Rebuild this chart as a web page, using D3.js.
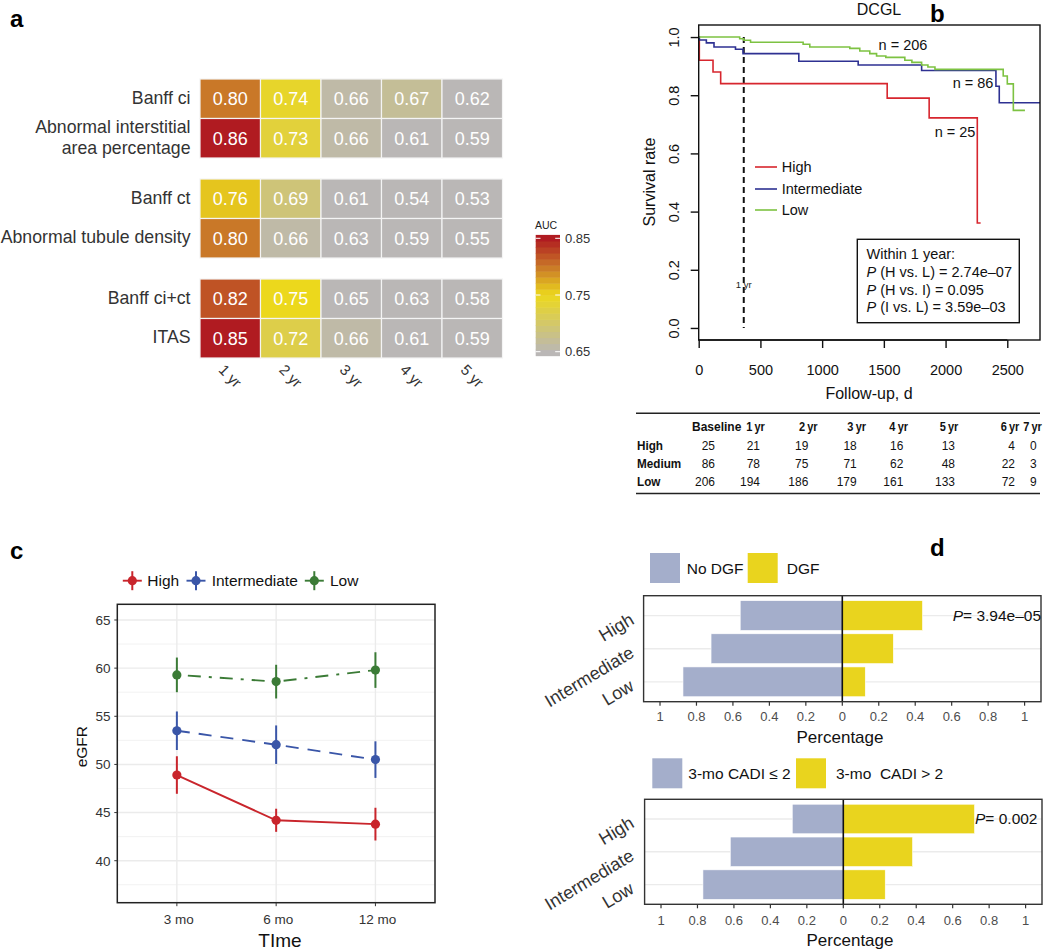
<!DOCTYPE html>
<html><head><meta charset="utf-8">
<script src="https://cdn.jsdelivr.net/npm/d3@7"></script>
<style>
body{margin:0;background:#fff}
svg{display:block}
text{font-family:"Liberation Sans",Arial,Helvetica,sans-serif}
</style>
</head><body>
<svg id="fig" width="1050" height="952"></svg>
<script>
// ---------------- DATA ----------------
// Panel a: AUC heatmap
const heatRows = ["Banff ci", "Abnormal interstitial\narea percentage", "Banff ct", "Abnormal tubule density", "Banff ci+ct", "ITAS"];
const heatYears = ["1 yr", "2 yr", "3 yr", "4 yr", "5 yr"];
const aucBanffCi = [0.80, 0.74, 0.66, 0.67, 0.62];
const aucInterstitial = [0.86, 0.73, 0.66, 0.61, 0.59];
const aucBanffCt = [0.76, 0.69, 0.61, 0.54, 0.53];
const aucTubule = [0.80, 0.66, 0.63, 0.59, 0.55];
const aucCiCt = [0.82, 0.75, 0.65, 0.63, 0.58];
const aucITAS = [0.85, 0.72, 0.66, 0.61, 0.59];
const aucLegendTicks = [0.65, 0.75, 0.85];

// Panel b: Kaplan-Meier steps [day, survival]
const kmHigh = [[0,1],[5,0.92],[116,0.88],[178,0.84],[1527,0.79],[1867,0.722],[2257,0.361],[2284,0.361]];
const kmIntermediate = [[0,1],[5,0.99],[62,0.98],[124,0.966],[298,0.958],[359,0.943],[811,0.917],[1292,0.904],[1806,0.885],[2408,0.831],[2435,0.774],[2765,0.774]];
const kmLow = [[0,1],[332,0.994],[365,0.989],[420,0.982],[846,0.975],[900,0.966],[1224,0.961],[1305,0.952],[1386,0.943],[1441,0.935],[1516,0.93],[1670,0.92],[1727,0.913],[1806,0.904],[1857,0.897],[1914,0.889],[2467,0.866],[2500,0.839],[2549,0.748],[2643,0.748]];
const survTicksX = [0, 500, 1000, 1500, 2000, 2500];
const survTicksY = [0, 0.2, 0.4, 0.6, 0.8, 1.0];
const survGroups = ["High", "Intermediate", "Low"];
const survN = ["n = 25", "n = 86", "n = 206"];
const pLines = ["Within 1 year:", "(H vs. L) = 2.74e\u201307", "(H vs. I) = 0.095", "(I vs. L) = 3.59e\u201303"];

// Panel b: risk table
const riskCols = ["Baseline", "1 yr", "2 yr", "3 yr", "4 yr", "5 yr", "6 yr", "7 yr"];
const riskRows = ["High", "Medium", "Low"];
const riskHigh = [25, 21, 19, 18, 16, 13, 4, 0];
const riskMedium = [86, 78, 75, 71, 62, 48, 22, 3];
const riskLow = [206, 194, 186, 179, 161, 133, 72, 9];

// Panel c: eGFR
const egfrTimes = ["3 mo", "6 mo", "12 mo"];
const egfrHigh = [48.9, 44.2, 43.8];
const egfrHighErr = [1.95, 1.2, 1.7];
const egfrInter = [53.5, 52.05, 50.5];
const egfrInterErr = [2.0, 2.0, 1.9];
const egfrLow = [59.3, 58.6, 59.8];
const egfrLowErr = [1.8, 1.75, 1.85];
const egfrTicks = [40, 45, 50, 55, 60, 65];

// Panel d: proportions
const dGroups = ["High", "Intermediate", "Low"];
const noDGF = [0.56, 0.72, 0.874];
const DGF = [0.44, 0.28, 0.126];
const cadiLE2 = [0.28, 0.62, 0.77];
const cadiGT2 = [0.72, 0.38, 0.23];
const pctTicks = [-1, -0.8, -0.6, -0.4, -0.2, 0, 0.2, 0.4, 0.6, 0.8, 1];

// ---------------- DRAW ----------------
const svg = d3.select("#fig");
const fmt2 = d3.format(".2f");

// panel letters
[["a",10,27],["b",930,22],["c",10,559],["d",930,556]].forEach(([t,x,y]) => {
  svg.append("text").attr("x",x).attr("y",y).style("font-size","24px").style("font-weight","bold").attr("fill","#000").text(t);
});

// ===== Panel a =====
(function(){
  const g = svg.append("g");
  const heatValues = [aucBanffCi, aucInterstitial, aucBanffCt, aucTubule, aucCiCt, aucITAS];
  const heatGroup = [0,0,1,1,2,2];
  const x = d3.scaleBand().domain(heatYears).range([200, 502.5]);
  const gs = d3.scaleBand().domain([0,1,2]).range([79, 358]).paddingInner(0.21);
  const inner = d3.scaleBand().domain([0,1]).range([0, gs.bandwidth()]);
  const y = i => gs(heatGroup[i]) + inner(i % 2);
  const col = d3.scaleLinear().domain([0.65, 0.75, 0.80, 0.85])
    .range(["#bab7b6", "#ecd81c", "#c97828", "#b01b21"]).clamp(true);

  heatValues.forEach((vals, i) => {
    vals.forEach((v, j) => {
      g.append("rect").attr("x", x(heatYears[j])).attr("y", y(i))
        .attr("width", x.bandwidth()).attr("height", inner.bandwidth())
        .attr("fill", col(v)).attr("stroke", "#f4f4f4").attr("stroke-width", 1.2);
      g.append("text").attr("x", x(heatYears[j]) + x.bandwidth()/2)
        .attr("y", y(i) + inner.bandwidth()/2 + 6.5)
        .attr("text-anchor", "middle").attr("fill", "#fff").style("font-size", "18px").text(fmt2(v));
    });
    const lines = heatRows[i].split("\n");
    const cy = y(i) + inner.bandwidth()/2;
    lines.forEach((ln, k) => {
      const by = lines.length === 1 ? cy + 5 : cy - 5.5 + k * 21;
      g.append("text").attr("x", 190.5).attr("y", by).attr("text-anchor", "end")
        .attr("fill", "#333").style("font-size", "17.7px").text(ln);
    });
  });
  heatYears.forEach(yr => {
    const cx = x(yr) + x.bandwidth()/2;
    g.append("text").attr("transform", `translate(${cx},${376}) rotate(45)`)
      .attr("text-anchor", "middle").attr("dy", "0.35em").attr("fill", "#333").style("font-size", "15px").text(yr);
  });

  // colour legend
  const ly = d3.scaleLinear().domain([0.65, 0.85]).range([351.7, 238.3]);
  const lo = 0.643, hi = 0.856, nb = 20;
  for (let k = 0; k < nb; k++) {
    const a = lo + (hi - lo) * k / nb, b = lo + (hi - lo) * (k + 1) / nb;
    g.append("rect").attr("x", 535.7).attr("width", 24.3)
      .attr("y", ly(b)).attr("height", ly(a) - ly(b) + 0.5).attr("fill", col((a + b) / 2));
  }
  aucLegendTicks.forEach(t => {
    g.append("line").attr("x1", 535.7).attr("x2", 540.5).attr("y1", ly(t)).attr("y2", ly(t)).attr("stroke", "#fff").attr("stroke-width", 1);
    g.append("line").attr("x1", 555.2).attr("x2", 560).attr("y1", ly(t)).attr("y2", ly(t)).attr("stroke", "#fff").attr("stroke-width", 1);
    g.append("text").attr("x", 565).attr("y", ly(t)).attr("dy", "0.35em").attr("fill", "#333").style("font-size", "13px").text(t.toFixed(2));
  });
  g.append("text").attr("x", 535).attr("y", 229).attr("fill", "#222").style("font-size", "10.5px").text("AUC");
})();

// ===== Panel b =====
(function(){
  const g = svg.append("g");
  const x = d3.scaleLinear().domain([0, 2765]).range([698.7, 1040]);
  const y = d3.scaleLinear().domain([-0.0414, 1.0414]).range([340, 25]);
  const cols = ["#d7262e", "#2e3192", "#7dc242"];
  const series = [kmHigh, kmIntermediate, kmLow];

  g.append("text").attr("x", 879).attr("y", 15).attr("text-anchor", "middle").style("font-size", "16px").attr("fill", "#111").text("DCGL");

  const line = d3.line().x(d => x(d[0])).y(d => y(d[1])).curve(d3.curveStepAfter);
  g.append("line").attr("x1", x(365)).attr("x2", x(365)).attr("y1", y(1)).attr("y2", y(0))
    .attr("stroke", "#111").attr("stroke-width", 2).attr("stroke-dasharray", "6,4");
  g.append("text").attr("x", x(365)).attr("y", 288).attr("text-anchor", "middle").style("font-size", "9.5px").attr("fill", "#222").text("1 yr");

  series.forEach((s, i) => {
    g.append("path").attr("d", line(s)).attr("fill", "none").attr("stroke", cols[i]).attr("stroke-width", 1.6);
  });

  g.append("rect").attr("x", 698.7).attr("y", 25).attr("width", 1040 - 698.7).attr("height", 315)
    .attr("fill", "none").attr("stroke", "#111").attr("stroke-width", 1.4);

  const ax = g.append("g").attr("transform", "translate(0,340)")
    .call(d3.axisBottom(x).tickValues(survTicksX).tickSize(8).tickPadding(17).tickFormat(d3.format("d")));
  ax.select(".domain").attr("d", `M${x(0)},0H${x(2500)}`).attr("stroke", "#111").attr("stroke-width", 1.4);
  ax.selectAll(".tick line").attr("stroke", "#111").attr("stroke-width", 1.4);
  ax.selectAll("text").style("font-size", "14.5px").attr("fill", "#111").attr("font-family", null);

  const ay = g.append("g").attr("transform", "translate(698.7,0)")
    .call(d3.axisLeft(y).tickValues(survTicksY).tickSize(8).tickFormat(d3.format(".1f")));
  ay.select(".domain").remove();
  ay.selectAll(".tick line").attr("stroke", "#111").attr("stroke-width", 1.4);
  ay.selectAll("text").attr("x", null).attr("dy", null).attr("text-anchor", "middle")
    .attr("transform", "translate(-19.5,0) rotate(-90)").style("font-size", "14.5px").attr("fill", "#111").attr("font-family", null);

  g.append("text").attr("transform", "translate(655,182) rotate(-90)").attr("text-anchor", "middle")
    .style("font-size", "16px").attr("fill", "#111").text("Survival rate");
  g.append("text").attr("x", 869).attr("y", 399).attr("text-anchor", "middle")
    .style("font-size", "16px").attr("fill", "#111").text("Follow-up, d");

  const legY = [167, 189, 210];
  survGroups.forEach((name, i) => {
    g.append("line").attr("x1", 755).attr("x2", 777).attr("y1", legY[i]).attr("y2", legY[i]).attr("stroke", cols[i]).attr("stroke-width", 1.6);
    g.append("text").attr("x", 781.7).attr("y", legY[i] + 5).style("font-size", "14.5px").attr("fill", "#111").text(name);
  });
  const nPos = [[955, 137], [973, 88], [903, 50]];
  survN.forEach((t, i) => {
    g.append("text").attr("x", nPos[i][0]).attr("y", nPos[i][1]).attr("text-anchor", "middle")
      .style("font-size", "14.5px").attr("fill", "#111").text(t);
  });
  g.append("rect").attr("x", 857.3).attr("y", 239.3).attr("width", 162).attr("height", 83.4)
    .attr("fill", "#fff").attr("stroke", "#111").attr("stroke-width", 1.4);
  pLines.forEach((t, i) => {
    const tx = g.append("text").attr("x", 866.5).attr("y", 259 + i * 17.8).style("font-size", "14.5px").attr("fill", "#111");
    if (i === 0) tx.text(t);
    else { tx.append("tspan").style("font-style", "italic").text("P"); tx.append("tspan").text(" " + t); }
  });

  // risk table
  const headX = [716.7, 755.5, 808.3, 856.7, 898.7, 949, 1010, 1032.5];
  const valX = [715, 760, 808.3, 856.7, 903.3, 955, 1015, 1036.7];
  const rowY = [449.5, 467.8, 486.2];
  const rows = [riskHigh, riskMedium, riskLow];
  const condense = (sel, f) => sel.each(function(){
    const w = this.getComputedTextLength();
    d3.select(this).attr("textLength", w * f).attr("lengthAdjust", "spacingAndGlyphs");
  });
  g.append("line").attr("x1", 636).attr("x2", 1040).attr("y1", 413.3).attr("y2", 413.3).attr("stroke", "#222").attr("stroke-width", 1.5);
  g.append("line").attr("x1", 636).attr("x2", 1040).attr("y1", 493.5).attr("y2", 493.5).attr("stroke", "#222").attr("stroke-width", 1.5);
  riskCols.forEach((c, j) => {
    g.append("text").attr("x", headX[j]).attr("y", 431).attr("text-anchor", "middle")
      .style("font-size", "12.5px").style("font-weight", "bold").style("word-spacing", "-1px").attr("fill", "#111").text(c)
      .call(condense, j === 0 ? 0.96 : 0.88);
  });
  riskRows.forEach((r, i) => {
    g.append("text").attr("x", 637).attr("y", rowY[i]).style("font-size", "13px").style("font-weight", "bold").attr("fill", "#111").text(r).call(condense, 0.9);
    rows[i].forEach((v, j) => {
      g.append("text").attr("x", valX[j]).attr("y", rowY[i]).attr("text-anchor", "end")
        .style("font-size", "13px").attr("fill", "#111").text(v).call(condense, 0.92);
    });
  });
})();

// ===== Panel c =====
(function(){
  const g = svg.append("g");
  const L = 117.3, R = 435, T = 604.3, B = 902.7;
  const x = d3.scalePoint().domain(egfrTimes).range([L, R]).padding(0.6);
  const y = d3.scaleLinear().domain([35.64, 66.63]).range([B, T]);
  const cols = ["#c9252c", "#3a56a8", "#3b7b36"];
  const dash = [null, "13,9", "3,8,13,8"];
  const means = [egfrHigh, egfrInter, egfrLow];
  const errs = [egfrHighErr, egfrInterErr, egfrLowErr];
  const names = ["High", "Intermediate", "Low"];

  [37.5, 42.5, 47.5, 52.5, 57.5, 62.5].forEach(v => {
    g.append("line").attr("x1", L).attr("x2", R).attr("y1", y(v)).attr("y2", y(v)).attr("stroke", "#f2f2f2").attr("stroke-width", 1);
  });
  egfrTicks.forEach(v => {
    g.append("line").attr("x1", L).attr("x2", R).attr("y1", y(v)).attr("y2", y(v)).attr("stroke", "#ebebeb").attr("stroke-width", 1.4);
  });
  egfrTimes.forEach(t => {
    g.append("line").attr("x1", x(t)).attr("x2", x(t)).attr("y1", T).attr("y2", B).attr("stroke", "#ebebeb").attr("stroke-width", 1.4);
  });

  const line = d3.line().x((d, i) => x(egfrTimes[i])).y(d => y(d));
  means.forEach((m, s) => {
    g.append("path").attr("d", line(m)).attr("fill", "none").attr("stroke", cols[s]).attr("stroke-width", 1.9)
      .attr("stroke-dasharray", dash[s]);
    m.forEach((v, i) => {
      g.append("line").attr("x1", x(egfrTimes[i])).attr("x2", x(egfrTimes[i]))
        .attr("y1", y(v - errs[s][i])).attr("y2", y(v + errs[s][i])).attr("stroke", cols[s]).attr("stroke-width", 2);
      g.append("circle").attr("cx", x(egfrTimes[i])).attr("cy", y(v)).attr("r", 4.6).attr("fill", cols[s]);
    });
  });

  g.append("rect").attr("x", L).attr("y", T).attr("width", R - L).attr("height", B - T)
    .attr("fill", "none").attr("stroke", "#222").attr("stroke-width", 1.5);

  egfrTicks.forEach(v => {
    g.append("line").attr("x1", L - 3).attr("x2", L).attr("y1", y(v)).attr("y2", y(v)).attr("stroke", "#333").attr("stroke-width", 1);
    g.append("text").attr("x", 110.5).attr("y", y(v)).attr("dy", "0.36em").attr("text-anchor", "end")
      .style("font-size", "13.5px").attr("fill", "#333").text(v);
  });
  egfrTimes.forEach(t => {
    g.append("line").attr("x1", x(t)).attr("x2", x(t)).attr("y1", B).attr("y2", B + 3.5).attr("stroke", "#333").attr("stroke-width", 1);
    g.append("text").attr("x", x(t) + 2).attr("y", 924).attr("text-anchor", "middle")
      .style("font-size", "13.5px").attr("fill", "#333").text(t);
  });
  g.append("text").attr("x", 280).attr("y", 947).attr("text-anchor", "middle").style("font-size", "19px").attr("fill", "#111").text("TIme");
  g.append("text").attr("transform", "translate(87,746.7) rotate(-90)").attr("text-anchor", "middle").style("font-size", "15.5px").attr("fill", "#111").text("eGFR");

  const symX = [132.3, 196, 314.3], txtX = [147.3, 211.7, 330], ly = 580.7;
  names.forEach((n, s) => {
    g.append("line").attr("x1", symX[s] - 9.5).attr("x2", symX[s] + 9.5).attr("y1", ly).attr("y2", ly).attr("stroke", cols[s]).attr("stroke-width", 1.9);
    g.append("line").attr("x1", symX[s]).attr("x2", symX[s]).attr("y1", ly - 9.5).attr("y2", ly + 9.5).attr("stroke", cols[s]).attr("stroke-width", 2);
    g.append("circle").attr("cx", symX[s]).attr("cy", ly).attr("r", 4.6).attr("fill", cols[s]);
    g.append("text").attr("x", txtX[s]).attr("y", ly + 5.7).style("font-size", "15.5px").attr("fill", "#111").text(n);
  });
})();

// ===== Panel d =====
function divergePanel(opt) {
  const g = svg.append("g");
  const {L, R, T, B, left, right, legNames, legSq, legTx, legY, pText, pX, tickY, titleX, titleY} = opt;
  const x = d3.scaleLinear().domain([-1.09, 1.09]).range([L, R]);
  const y = d3.scaleBand().domain(dGroups).range([T, B]).paddingInner(0.1).paddingOuter(0.15);
  const cNo = "#a4aecb", cYes = "#e9d41e";

  dGroups.forEach(d => {
    g.append("line").attr("x1", L).attr("x2", R).attr("y1", y(d) + y.bandwidth()/2).attr("y2", y(d) + y.bandwidth()/2)
      .attr("stroke", "#ebebeb").attr("stroke-width", 1.4);
  });
  dGroups.forEach((d, i) => {
    g.append("rect").attr("x", x(-left[i])).attr("width", x(0) - x(-left[i])).attr("y", y(d)).attr("height", y.bandwidth())
      .attr("fill", cNo).attr("stroke", "#fff").attr("stroke-width", 0.6);
    g.append("rect").attr("x", x(0)).attr("width", x(right[i]) - x(0)).attr("y", y(d)).attr("height", y.bandwidth())
      .attr("fill", cYes).attr("stroke", "#fff").attr("stroke-width", 0.6);
  });
  g.append("line").attr("x1", x(0)).attr("x2", x(0)).attr("y1", T).attr("y2", B).attr("stroke", "#111").attr("stroke-width", 1.6);
  g.append("rect").attr("x", L).attr("y", T).attr("width", R - L).attr("height", B - T)
    .attr("fill", "none").attr("stroke", "#333").attr("stroke-width", 1.4);

  pctTicks.forEach(t => {
    g.append("line").attr("x1", x(t)).attr("x2", x(t)).attr("y1", B).attr("y2", B + 4).attr("stroke", "#333").attr("stroke-width", 1.2);
    g.append("text").attr("x", x(t)).attr("y", tickY).attr("text-anchor", "middle").style("font-size", "13px").attr("fill", "#4d4d4d")
      .text(d3.format("~g")(Math.abs(t)));
  });
  g.append("text").attr("x", titleX).attr("y", titleY).attr("text-anchor", "middle").style("font-size", "17px").attr("fill", "#111").text("Percentage");

  dGroups.forEach(d => {
    g.append("text").attr("transform", `translate(632,${y(d) + y.bandwidth()/2 + 2}) rotate(-31)`)
      .attr("text-anchor", "end").attr("dy", "0.35em").style("font-size", "18px").attr("fill", "#333").text(d);
  });

  [cNo, cYes].forEach((c, k) => {
    g.append("rect").attr("x", legSq[k]).attr("y", legY - 15).attr("width", 30).attr("height", 30).attr("fill", c);
    g.append("text").attr("x", legTx[k]).attr("y", legY + 5.5).style("font-size", "15.5px").attr("fill", "#111").text(legNames[k]);
  });
  const pt = g.append("text").attr("x", pX).attr("y", y("High") + y.bandwidth()/2 + 5.5).style("font-size", "15.5px").attr("fill", "#111");
  pt.append("tspan").style("font-style", "italic").text("P");
  pt.append("tspan").text(pText);
}
divergePanel({L: 643.6, R: 1041, T: 595.7, B: 701.7, left: noDGF, right: DGF,
  legNames: ["No DGF", "DGF"], legSq: [650, 747.7], legTx: [686.7, 786.7], legY: 568,
  pText: "= 3.94e\u201305", pX: 952.7, tickY: 720.5, titleX: 840, titleY: 742.7});
divergePanel({L: 644.6, R: 1042, T: 799.3, B: 904.3, left: cadiLE2, right: cadiGT2,
  legNames: ["3-mo CADI \u2264 2", "3-mo\u00a0 CADI > 2"], legSq: [652.3, 796], legTx: [688.3, 836], legY: 773.3,
  pText: "= 0.002", pX: 975, tickY: 924.5, titleX: 850, titleY: 946});
</script>
</body></html>
